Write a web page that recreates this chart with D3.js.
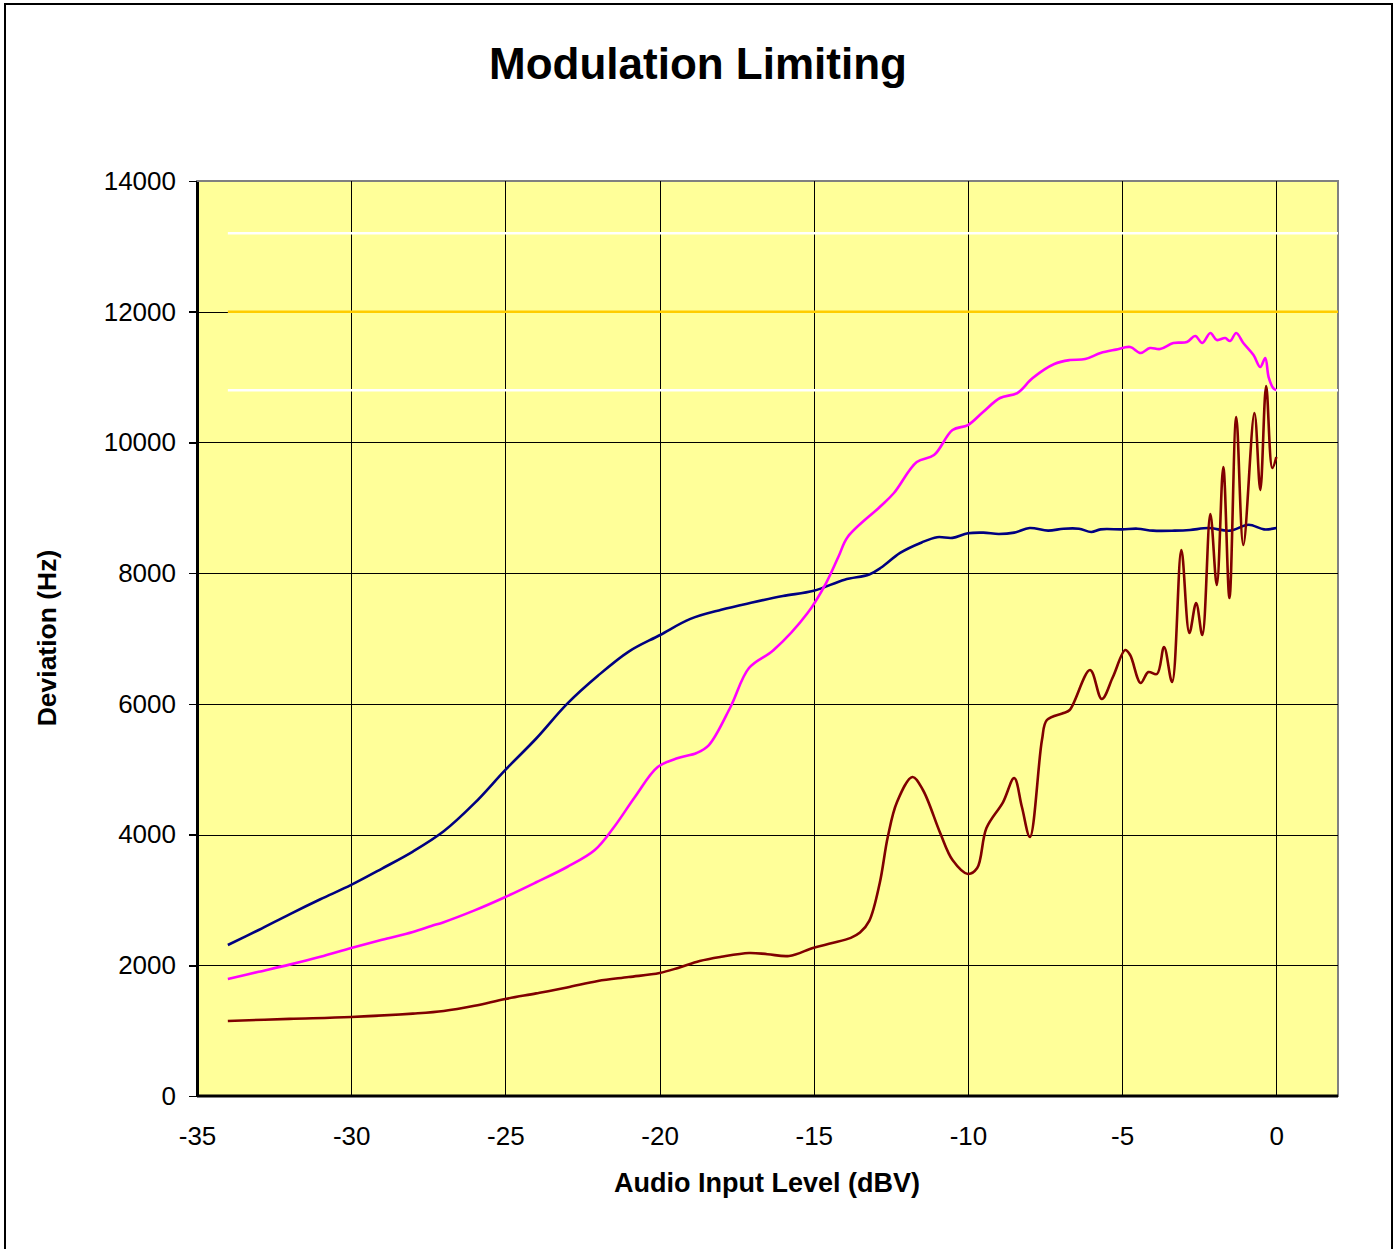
<!doctype html>
<html lang="en">
<head>
<meta charset="UTF-8">
<title>Modulation Limiting</title>
<style>
    body { margin: 0; background: #fff; }
    svg { display: block; font-family: "Liberation Sans", Arial, sans-serif; }
    .grid line { stroke: #000; stroke-width: 1; shape-rendering: crispEdges; }
    .grid path { display: none; }
    .axis text { font-size: 26px; fill: #000; }
    .axis line { stroke: #000; stroke-width: 1.5; shape-rendering: crispEdges; }
    .axis path { stroke: #000; stroke-width: 2.5; shape-rendering: crispEdges; }
    .x.axis path { display: none; }
    .series { fill: none; stroke-width: 2.6; stroke-linejoin: round; }
</style>
</head>
<body>
<svg class="chart"></svg>
<script src="https://d3js.org/d3.v7.min.js"></script>
<script>
// tick labels
var xTicks = [-35, -30, -25, -20, -15, -10, -5, 0];
var yTicks = [0, 2000, 4000, 6000, 8000, 10000, 12000, 14000];

// navy trace
var navyX = [-34, -33, -32, -31, -30, -29, -28, -27, -26, -25, -24, -23, -22, -21, -20, -19, -18, -17, -16, -15,
    -14, -13.2, -12.8, -12.2, -11.5, -11, -10.5, -10, -9.5, -9, -8.5, -8, -7.4, -6.9, -6.4, -6, -5.7, -5, -4.5, -4,
    -3.3, -2.8, -2.2, -1.5, -0.9, -0.4, 0];
var navyY = [2310, 2540, 2780, 3010, 3230, 3480, 3740, 4050, 4480, 4990, 5470, 6000, 6430, 6800, 7050, 7300, 7440, 7550, 7650, 7730,
    7900, 7980, 8090, 8310, 8470, 8550, 8540, 8610, 8620, 8600, 8620, 8690, 8650, 8680, 8680, 8630, 8670, 8670, 8680, 8650,
    8650, 8660, 8690, 8650, 8740, 8670, 8690];

// magenta trace
var magentaX = [-34, -33, -32, -31, -30, -29, -28, -27.4, -27, -26, -25, -24, -23, -22.1, -21.5, -20.8, -20.06, -19.4, -18.8, -18.4,
    -17.7, -17.1, -16.3, -15.2, -14.6, -14.2, -13.9, -12.86, -12.4, -11.66, -11.1, -10.5, -10, -9.5, -8.96, -8.4, -7.9, -7.2, -6.7, -6.2,
    -5.7, -5.2, -4.74, -4.4, -4.1, -3.77, -3.34, -2.9, -2.63, -2.4, -2.14, -1.93, -1.66, -1.5, -1.3, -1.07, -0.74, -0.52, -0.36, -0.25,
    -0.1, 0];
var magentaY = [1790, 1900, 2010, 2130, 2264, 2390, 2510, 2601, 2660, 2840, 3045, 3270, 3504, 3764, 4100, 4575, 5034, 5171, 5248, 5370,
    5952, 6548, 6824, 7390, 7849, 8250, 8553, 9012, 9226, 9700, 9807, 10190, 10266, 10470, 10680, 10756, 10986, 11200, 11260, 11276,
    11368, 11420, 11460, 11368, 11444, 11429, 11521, 11536, 11628, 11521, 11674, 11567, 11597, 11551, 11674, 11521, 11337, 11154, 11291, 11000,
    10832, 10800];

// maroon trace
var maroonX = [-34, -32, -30, -28, -27, -26, -25, -24, -23, -22, -21, -20, -19.4, -18.7, -18, -17.1, -16.5, -15.8, -15, -14.4,
    -13.8, -13.5, -13.2, -12.86, -12.6, -12.3, -11.8, -11.46, -10.9, -10.5, -10, -9.7, -9.4, -8.86, -8.5, -8.25, -7.99, -7.6, -7.44, -6.9,
    -6.7, -6.04, -5.66, -5.3, -4.9, -4.74, -4.4, -4.15, -3.87, -3.64, -3.38, -3.08, -2.82, -2.6, -2.4, -2.14, -1.93, -1.72, -1.52, -1.3,
    -1.07, -0.71, -0.52, -0.33, -0.13, 0];
var maroonY = [1148, 1180, 1209, 1260, 1300, 1380, 1484, 1570, 1660, 1760, 1820, 1882, 1960, 2066, 2130, 2188, 2170, 2142, 2270, 2340,
    2420, 2500, 2680, 3259, 3963, 4498, 4881, 4682, 4024, 3611, 3397, 3488, 4100, 4498, 4865, 4422, 3963, 5447, 5753, 5860,
    5906, 6518, 6074, 6411, 6824, 6747, 6319, 6487, 6457, 6870, 6334, 8354, 7084, 7543, 7053, 8905, 7818, 9624, 7619, 10389,
    8430, 10450, 9272, 10863, 9608, 9777];

// limit lines
var limitX = [-34, 2];
var limitValues = [13200, 12000, 10800];
var limitColors = ["#ffffff", "#ffcc00", "#ffffff"];

var totalWidth = 1397, totalHeight = 1249;
var plot = {left: 197, top: 181, right: 1338, bottom: 1096};

var svg = d3.select(".chart")
    .attr("width", totalWidth)
    .attr("height", totalHeight);

// outer chart border (bottom edge runs off the page)
svg.append("rect")
    .attr("x", 5).attr("y", 4)
    .attr("width", 1387).attr("height", 1270)
    .attr("fill", "#fff").attr("stroke", "#000").attr("stroke-width", 2);

var x = d3.scaleLinear().domain([-35, 2]).range([plot.left, plot.right]);
var y = d3.scaleLinear().domain([0, 14000]).range([plot.bottom, plot.top]);

// plain "-" and no thousands separator, like the original
var plain = function(d) { return String(d); };

// plot area
svg.append("rect")
    .attr("x", plot.left).attr("y", plot.top)
    .attr("width", plot.right - plot.left).attr("height", plot.bottom - plot.top)
    .attr("fill", "#ffff99").attr("stroke", "#808080").attr("stroke-width", 2);

// grid lines
svg.append("g").attr("class", "grid")
    .attr("transform", "translate(0," + plot.bottom + ")")
    .call(d3.axisBottom(x).tickValues(xTicks.slice(1)).tickSize(-(plot.bottom - plot.top)).tickFormat(""));
svg.append("g").attr("class", "grid")
    .attr("transform", "translate(" + plot.left + ",0)")
    .call(d3.axisLeft(y).tickValues(yTicks.slice(1, -1)).tickSize(-(plot.right - plot.left)).tickFormat(""));

// limit lines
limitValues.forEach(function(v, i) {
    svg.append("path")
        .datum(limitX)
        .attr("fill", "none")
        .attr("stroke", limitColors[i])
        .attr("stroke-width", 2.5)
        .attr("d", d3.line().x(function(d) { return x(d); }).y(function() { return y(v); }));
});

// axes
svg.append("g").attr("class", "y axis")
    .attr("transform", "translate(" + plot.left + ",0)")
    .call(d3.axisLeft(y).tickValues(yTicks).tickFormat(plain).tickSize(8).tickSizeOuter(0).tickPadding(13));
svg.append("g").attr("class", "x axis")
    .attr("transform", "translate(0," + plot.bottom + ")")
    .call(d3.axisBottom(x).tickValues(xTicks).tickFormat(plain).tickSize(0).tickPadding(31));
svg.append("line")
    .attr("x1", plot.left).attr("x2", plot.right)
    .attr("y1", plot.bottom).attr("y2", plot.bottom)
    .attr("stroke", "#000").attr("stroke-width", 3);

// traces
var line = d3.line()
    .x(function(d) { return x(d[0]); })
    .y(function(d) { return y(d[1]); })
    .curve(d3.curveCatmullRom.alpha(0.5));

var traces = [
    {xs: navyX, ys: navyY, color: "#000080"},
    {xs: magentaX, ys: magentaY, color: "#ff00ff"},
    {xs: maroonX, ys: maroonY, color: "#800000"}
];
traces.forEach(function(t) {
    svg.append("path")
        .datum(d3.zip(t.xs, t.ys))
        .attr("class", "series")
        .attr("stroke", t.color)
        .attr("d", line);
});

// titles
svg.append("text")
    .attr("x", 698).attr("y", 79)
    .attr("text-anchor", "middle")
    .style("font-size", "44px").style("font-weight", "bold")
    .text("Modulation Limiting");

svg.append("text")
    .attr("x", 767).attr("y", 1192)
    .attr("text-anchor", "middle")
    .style("font-size", "27px").style("font-weight", "bold")
    .text("Audio Input Level (dBV)");

svg.append("text")
    .attr("transform", "translate(56,638) rotate(-90)")
    .attr("text-anchor", "middle")
    .style("font-size", "26.5px").style("font-weight", "bold")
    .text("Deviation (Hz)");
</script>
</body>
</html>
